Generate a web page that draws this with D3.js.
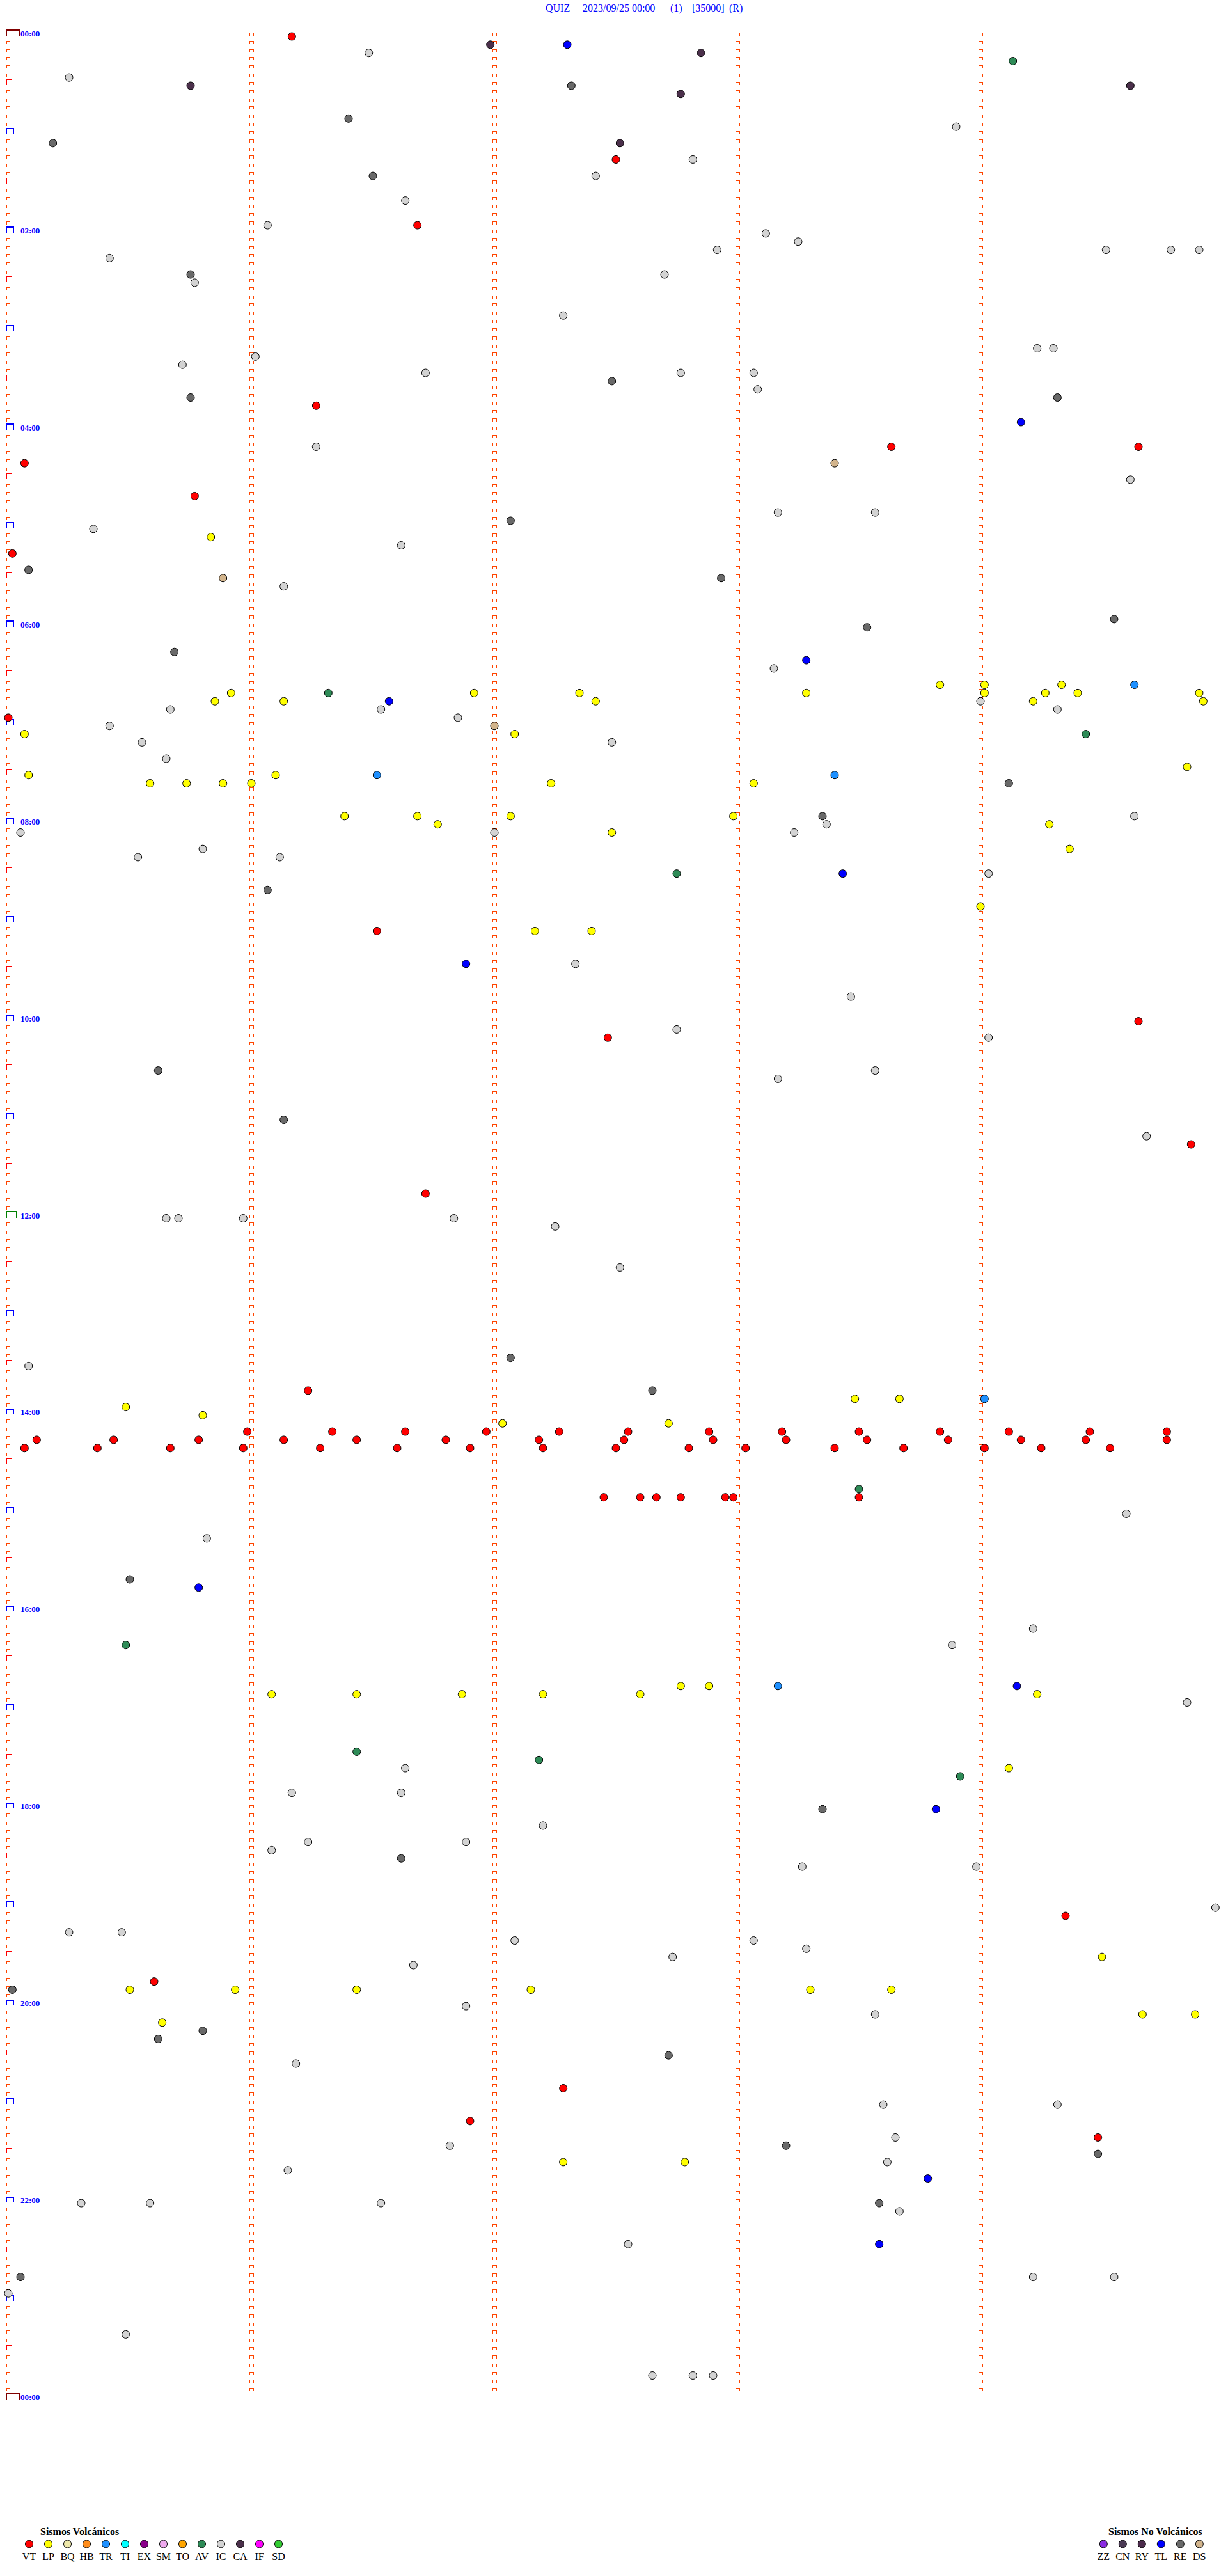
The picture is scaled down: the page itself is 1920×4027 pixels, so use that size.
<!DOCTYPE html>
<html><head><meta charset="utf-8">
<script src="https://cdn.jsdelivr.net/npm/d3@7"></script>
<style>body{margin:0;background:#fff}svg{display:block}</style>
</head><body>
<svg id="c" width="1920" height="4027"></svg>
<script>
// ---------- data ----------
const titleParts = ["QUIZ", "2023/09/25 00:00", "(1)", "[35000]", "(R)"];
const hourLabels = ["00:00","02:00","04:00","06:00","08:00","10:00","12:00","14:00","16:00","18:00","20:00","22:00","00:00"];
const volcTypes  = ["VT","LP","BQ","HB","TR","TI","EX","SM","TO","AV","IC","CA","IF","SD"];
const volcColors = ["#ff0000","#ffff00","#eee8aa","#ff8c1a","#1e90ff","#00ffff","#8b008b","#eeaaee","#ffa500","#2e8b57","#d3d3d3","#4b304b","#ff00ff","#32cd32"];
const noVolcTypes  = ["ZZ","CN","RY","TL","RE","DS"];
const noVolcColors = ["#8a2be2","#4b3a55","#4b2a4b","#0000ff","#696969","#d2b48c"];

const VT = ["00:01:10","01:17:30","01:56:41","03:46:16","04:13:38","04:14:39","04:20:04","04:40:46","05:15:01","06:55:00",
  "09:06:31","10:04:39","10:12:28","11:19:52","11:46:43","13:46:14",
  "14:10:59","14:11:20","14:11:38","14:11:58","14:12:16","14:12:33","14:12:53","14:13:11","14:13:30","14:13:50","14:14:07","14:14:27","14:14:46",
  "14:15:07","14:15:26","14:15:47","14:16:08","14:16:26","14:16:48","14:17:11","14:17:32","14:17:54","14:18:12","14:18:32","14:18:52","14:19:10","14:19:26","14:19:46",
  "14:20:04","14:20:22","14:20:40","14:20:58","14:21:17","14:21:36","14:21:54","14:22:12","14:22:30","14:22:48","14:23:02","14:23:24","14:23:41","14:24:01","14:24:15","14:24:32",
  "14:52:27","14:52:36","14:52:40","14:52:46","14:52:57","14:52:59","14:53:30",
  "19:09:21","19:45:36","20:52:17","21:11:54","21:24:29"];
const LP = ["05:05:50","06:38:50","06:39:01","06:39:20","06:40:55","06:41:55","06:42:21","06:43:17","06:44:01","06:44:16","06:44:24","06:44:54",
  "06:45:51","06:46:08","06:47:25","06:49:13","06:49:55","07:05:04","07:07:05","07:29:51","07:30:05","07:31:06",
  "07:35:35","07:35:44","07:35:53","07:36:00","07:37:14","07:38:04","07:56:23","07:56:41","07:57:04","07:57:59",
  "08:01:46","08:04:17","08:07:29","08:19:22","08:54:00","09:07:10","09:07:24","13:53:29","13:53:40","13:55:29",
  "14:00:48","14:07:02","14:07:43","16:47:46","16:47:53","16:51:05","16:51:26","16:51:52","16:52:12","16:52:36","16:54:14",
  "17:39:07","19:34:30","19:50:30","19:50:56","19:51:26","19:52:09","19:53:18","19:53:38","20:09:40","20:09:53","20:10:38",
  "21:37:17","21:37:47"];
const TR = ["06:39:38","07:31:31","07:33:24","13:54:01","16:48:10"];
const AV = ["00:19:08","06:41:19","07:09:26","08:32:45","14:48:30","16:20:29","17:26:26","17:32:11","17:43:55"];
const IC = ["00:11:29","00:25:15","00:58:54","01:17:49","01:27:25","01:41:38","01:56:04","02:03:07","02:08:15","02:12:55","02:14:31","02:14:47",
  "02:14:54","02:15:25","02:30:46","02:27:42","02:52:17","03:14:14","03:14:18","03:16:01","03:20:43","03:26:43","03:27:46","03:28:04",
  "03:38:05","04:11:16","04:34:37","04:53:10","04:53:34","05:00:21","05:11:37","05:36:08","06:28:09","06:49:00","06:50:40","06:51:32",
  "06:54:19","06:56:51","07:00:25","07:10:33","07:12:29","07:20:39","07:59:38","08:03:22","08:05:03","08:07:00","08:08:14","08:15:48",
  "08:20:32","08:21:07","08:34:02","09:27:20","09:48:28","10:07:45","10:14:02","10:33:34","10:38:10","11:14:41","12:00:39","12:00:42",
  "12:00:58","12:01:50","12:07:15","12:32:31","13:30:05","15:04:36","15:15:49","16:14:13","16:23:53","16:59:51","17:36:38","17:51:10",
  "17:51:37","18:12:12","18:21:14","18:21:53","18:26:05","18:38:16","18:38:59","19:04:58","19:15:15","19:15:28","19:22:05","19:23:04",
  "19:28:17","19:32:44","19:36:40","20:01:53","20:08:34","20:36:11","21:03:36","21:04:19","21:23:39","21:26:49","21:38:37","21:41:09",
  "22:00:18","22:00:35","22:01:32","22:08:40","22:27:33","22:49:13","22:49:33","22:55:00","23:20:29","23:47:39","23:47:49","23:47:54"];
const CA = ["00:06:59","00:12:51","00:30:45","00:34:37","00:37:46","01:07:31"];
const TL = ["00:07:18","03:59:10","06:23:17","06:46:34","08:33:26","09:26:53","15:45:47","16:49:09","18:03:49","21:48:47","22:28:35"];
const RE = ["00:32:19","00:51:24","01:05:11","01:26:30","02:25:45","03:32:29","03:40:45","03:44:19","04:57:04","05:25:05","05:32:56",
  "05:59:33","06:03:32","06:15:41","07:39:07","07:58:21","08:41:04","10:30:37","11:01:08","13:27:04","13:47:39","15:40:30",
  "18:03:21","18:31:37","19:50:01","20:15:48","20:20:37","20:32:43","21:28:12","21:34:29","22:03:35","22:45:03"];
const DS = ["04:23:24","05:30:53","07:02:00"];

// ---------- setup ----------
const svg = d3.select("#c");
const serif = "'Liberation Serif','Times New Roman',serif";
const colorOf = new Map([...volcTypes.map((t,i)=>[t,volcColors[i]]), ...noVolcTypes.map((t,i)=>[t,noVolcColors[i]])]);
const windowSec = 300;                       // each row = 5 minutes
const x = d3.scaleLinear().domain([0, windowSec]).range([13, 1913]);
const y = d3.scaleLinear().domain([0, 1440]).range([51, 3746]); // minutes of day -> row top
const rows = d3.range(0, 288);

// title
const titleX = [853, 911, 1048, 1082, 1140];
svg.append("g").selectAll("text").data(titleParts).join("text")
  .attr("x",(d,i)=>titleX[i]).attr("y",18)
  .attr("font-family",serif).attr("font-size",16).attr("fill","#0000ff").text(d=>d);

// tick glyph ("⊓" shape)
function bracket(g, cx0, w, yb, h, color, sw){
  g.append("path")
    .attr("d",`M${cx0},${yb} V${yb-h} H${cx0+w} V${yb}`)
    .attr("fill","none").attr("stroke",color).attr("stroke-width",sw)
    .attr("shape-rendering","crispEdges");
}

// minute column guides (every minute within the 5-min window)
const gCols = svg.append("g");
[60,120,180,240].forEach(s=>{
  rows.forEach(r=>{ bracket(gCols, x(s)-3, 6, y(r*5)+5, 4.5, "#ff4500", 1); });
});

// left time axis
const gAx = svg.append("g");
d3.range(0, 289).forEach(r=>{
  const m = r*5, yb = y(m)+5;
  if (m===0 || m===1440) bracket(gAx, 10, 20, yb+1, 10, "#800000", 2);
  else if (m===720) bracket(gAx, 10, 16, yb, 10, "#008000", 2);
  else if (m%60===0) bracket(gAx, 10, 11, yb, 8.5, "#0000ff", 2);
  else if (m%30===0) bracket(gAx, 10.5, 8, yb, 8, "#ff0000", 1);
  else bracket(gAx, 10.5, 5, yb, 4.5, "#ff4500", 1);
});
gAx.selectAll("text").data(hourLabels).join("text")
  .attr("x",32).attr("y",(d,i)=>y(i*120)+6)
  .attr("font-family",serif).attr("font-weight","bold").attr("font-size",13)
  .attr("fill","#0000ff").text(d=>d);

// events
const series = {VT, LP, TR, AV, IC, CA, TL, RE, DS};
const events = [];
Object.entries(series).forEach(([type, arr])=>{
  arr.forEach(t=>{
    const [h,mi,s] = t.split(":").map(Number);
    const sec = h*3600+mi*60+s;
    const row = Math.floor(sec/windowSec);
    events.push({type, row, off: sec - row*windowSec});
  });
});
svg.append("g").selectAll("circle").data(events).join("circle")
  .attr("cx",d=>x(d.off)).attr("cy",d=>y(d.row*5)+6).attr("r",6)
  .attr("fill",d=>colorOf.get(d.type)).attr("stroke","#000").attr("stroke-width",1);

// legends
function legend(types, x0, titleTxt, tx){
  const g = svg.append("g");
  g.append("text").attr("x",tx).attr("y",3963).attr("font-family",serif)
    .attr("font-weight","bold").attr("font-size",16).attr("fill","#000").text(titleTxt);
  const lx = d3.scalePoint().domain(types).range([x0, x0+30*(types.length-1)]);
  g.selectAll("circle").data(types).join("circle")
    .attr("cx",d=>lx(d)).attr("cy",3977).attr("r",6)
    .attr("fill",d=>colorOf.get(d)).attr("stroke","#000").attr("stroke-width",1);
  g.selectAll("text.l").data(types).join("text").attr("class","l")
    .attr("x",d=>lx(d)).attr("y",4002).attr("text-anchor","middle")
    .attr("font-family",serif).attr("font-size",16).attr("fill","#000").text(d=>d);
}
legend(volcTypes, 45.5, "Sismos Volcánicos", 63);
legend(noVolcTypes, 1725.3, "Sismos No Volcánicos", 1733);
</script>
</body></html>
